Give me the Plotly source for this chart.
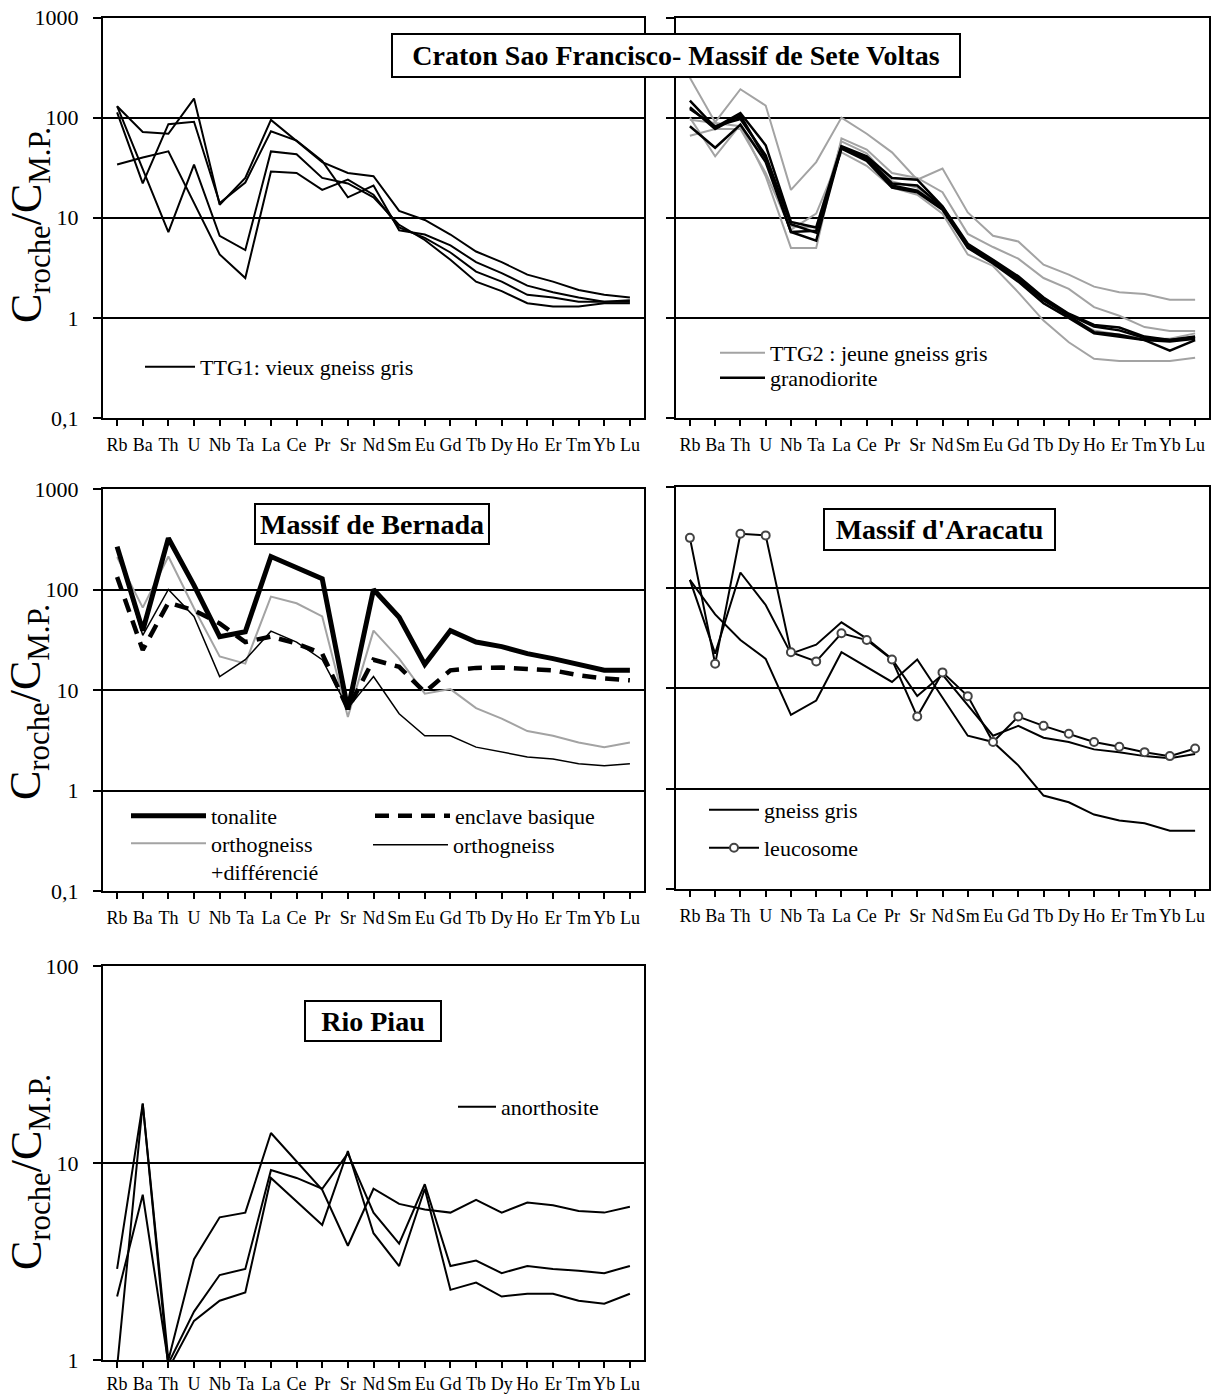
import plotly.graph_objects as go

# Page body has an 8px margin: figure is drawn 8px right/down of the window origin.
OFF = 8
W, H = 1212, 1386

elements = ["Rb", "Ba", "Th", "U", "Nb", "Ta", "La", "Ce", "Pr", "Sr", "Nd",
            "Sm", "Eu", "Gd", "Tb", "Dy", "Ho", "Er", "Tm", "Yb", "Lu"]

# ---- Panel 1 : TTG1 vieux gneiss gris
ttg1_a = [130, 72, 69, 155, 13.5, 25, 95, 58, 36, 28, 26, 11.7, 9.5, 6.8, 4.6, 3.6, 2.7, 2.3, 1.9, 1.7, 1.6]
ttg1_b = [113, 22, 86, 91, 14, 22.5, 73, 59, 37, 16, 21, 7.5, 6.8, 5.3, 3.6, 2.8, 2.1, 1.8, 1.6, 1.45, 1.5]
ttg1_c = [34, 40, 46, 14, 4.3, 2.5, 29, 28, 19, 24, 17, 8.0, 6.3, 4.5, 2.9, 2.3, 1.7, 1.6, 1.45, 1.45, 1.45]
ttg1_d = [130, 31, 7.2, 34, 6.6, 4.75, 46, 43, 25, 22, 16, 8.5, 6.0, 3.8, 2.3, 1.85, 1.4, 1.3, 1.3, 1.4, 1.4]

# ---- Panel 2 : TTG2 jeune gneiss gris (gray) + granodiorite (black)
ttg2_a = [250, 90, 192, 132, 19, 36, 100, 69, 45, 24, 31, 11.3, 6.6, 5.8, 3.4, 2.7, 2.05, 1.8, 1.73, 1.52, 1.52]
ttg2_b = [100, 41, 85, 26, 5.0, 5.0, 62, 48, 28, 25, 18, 6.9, 5.1, 3.9, 2.5, 1.95, 1.28, 1.05, 0.81, 0.74, 0.74]
ttg2_c = [66, 77, 77, 28, 7.6, 11, 45, 33, 20, 17, 11, 4.3, 3.3, 1.8, 0.94, 0.57, 0.39, 0.37, 0.37, 0.37, 0.40]
ttg2_d = [95, 88, 82, 40, 8.2, 8.0, 58, 44, 23, 20, 13, 5.0, 3.6, 2.4, 1.4, 1.0, 0.75, 0.68, 0.62, 0.62, 0.70]
gran_a = [148, 80, 111, 53, 9.1, 8.0, 52, 41, 25, 24, 13, 5.5, 3.8, 2.6, 1.6, 1.1, 0.85, 0.8, 0.65, 0.6, 0.65]
gran_b = [127, 77, 105, 39, 7.2, 5.9, 50, 39, 21, 18.6, 12.5, 5.2, 3.6, 2.4, 1.5, 1.05, 0.72, 0.68, 0.6, 0.47, 0.6]
gran_c = [82, 50, 85, 36, 7.2, 7.4, 49, 37, 20, 18, 12, 5.0, 3.5, 2.3, 1.4, 1.0, 0.7, 0.65, 0.6, 0.58, 0.62]
gran_d = [122, 82, 97, 42, 8.6, 7.1, 51, 40, 22, 21, 12.8, 5.3, 3.7, 2.5, 1.55, 1.08, 0.82, 0.75, 0.63, 0.6, 0.64]

# ---- Panel 3 : Massif de Bernada
tonalite = [267, 39, 324, 110, 34, 38, 213, 167, 128, 6.4, 100, 53, 18, 39, 30, 27, 23, 20.5, 18.2, 15.7, 15.7]
enclave = [133, 25, 74, 62, 46, 30, 34, 29, 23, 6.5, 20, 17, 9.5, 15.7, 16.6, 16.7, 16.2, 15.7, 14, 13, 12.5]
ortho_diff = [210, 66, 213, 65, 21.6, 18.3, 85, 73, 54, 5.4, 39, 20.5, 9.2, 10.2, 6.6, 5.2, 3.9, 3.5, 3.0, 2.7, 3.0]
ortho = [250, 35, 100, 54, 13.6, 20, 38.5, 30, 20, 6.6, 13.6, 5.8, 3.5, 3.5, 2.7, 2.4, 2.16, 2.06, 1.85, 1.76, 1.85]

# ---- Panel 4 : Massif d'Aracatu
leucosome = [312, 17.4, 343, 330, 22.7, 18.4, 35, 30, 19.2, 5.2, 14.3, 8.3, 2.9, 5.2, 4.2, 3.5, 2.9, 2.6, 2.3, 2.1, 2.5]
gneiss_a = [119, 22, 141, 67, 22, 27, 45, 31, 19.5, 8.3, 13.6, 6.7, 3.35, 4.2, 3.2, 2.9, 2.45, 2.3, 2.1, 2.0, 2.2]
gneiss_b = [119, 54, 30, 19.5, 5.4, 7.5, 22.7, 16, 11.5, 19.2, 8.1, 3.35, 2.9, 1.7, 0.85, 0.73, 0.55, 0.48, 0.45, 0.38, 0.38]

# ---- Panel 5 : Rio Piau
anor_a = [2.9, 20, 1.0, 3.25, 5.3, 5.6, 14.2, 10.2, 7.3, 3.8, 7.4, 6.2, 5.8, 5.6, 6.5, 5.6, 6.3, 6.1, 5.7, 5.6, 6.0]
anor_b = [2.1, 6.9, 0.96, 1.76, 2.7, 2.9, 9.2, 8.4, 7.4, 11.2, 5.6, 3.9, 7.8, 3.0, 3.2, 2.76, 3.0, 2.9, 2.84, 2.76, 3.0]
anor_c = [0.92, 20, 0.9, 1.58, 2.0, 2.2, 8.4, 6.4, 4.85, 11.5, 4.4, 3.0, 7.4, 2.27, 2.47, 2.1, 2.17, 2.17, 2.0, 1.93, 2.17]

ticks_main = [0.1, 1, 10, 100, 1000]
ticks_main_text = ["0,1", "1", "10", "100", "1000"]
ticks_rio = [1, 10, 100]
ticks_rio_text = ["1", "10", "100"]

FONT = "Liberation Serif, Times New Roman, serif"
GRAY = "#a3a3a3"


def fx(p):
    return (p - OFF) / W


def fy(p):
    return 1 - (p - OFF) / H


fig = go.Figure()


def add(vals, ax, color="black", width=2, dash=None, name=None, legend=None,
        mode="lines", marker=None):
    line = dict(color=color, width=width)
    if dash:
        line["dash"] = dash
    kw = dict(x=elements, y=vals, mode=mode, line=line,
              xaxis="x" + ("" if ax == 1 else str(ax)),
              yaxis="y" + ("" if ax == 1 else str(ax)),
              showlegend=legend is not None, name=name or "", hoverinfo="skip")
    if legend is not None:
        kw["legend"] = legend
    if marker is not None:
        kw["marker"] = marker
    fig.add_trace(go.Scatter(**kw))


# panel 1
add(ttg1_a, 1, name="TTG1: vieux gneiss gris", legend="legend")
for s in (ttg1_b, ttg1_c, ttg1_d):
    add(s, 1)
# panel 2
add(ttg2_a, 2, color=GRAY, name="TTG2 : jeune gneiss gris", legend="legend2")
for s in (ttg2_b, ttg2_c, ttg2_d):
    add(s, 2, color=GRAY)
add(gran_a, 2, width=2.5, name="granodiorite", legend="legend3")
for s in (gran_b, gran_c, gran_d):
    add(s, 2, width=2.5)
# panel 3
add(ortho_diff, 3, color=GRAY, width=2, name="orthogneiss<br>+différencié", legend="legend5")
add(ortho, 3, width=1.5, name="orthogneiss", legend="legend7")
add(enclave, 3, width=4.5, dash="14px,9px", name="enclave basique", legend="legend6")
add(tonalite, 3, width=5, name="tonalite", legend="legend4")
# panel 4
add(gneiss_a, 4, name="gneiss gris", legend="legend8")
add(gneiss_b, 4)
add(leucosome, 4, name="leucosome", legend="legend9", mode="lines+markers",
    marker=dict(symbol="circle", size=8, color="white", line=dict(color="#444", width=2)))
# panel 5
add(anor_a, 5, name="anorthosite", legend="legend10")
add(anor_b, 5)
add(anor_c, 5)

# plot-area boxes in reference window pixels
panels = {
    1: dict(x=(103, 644), y=(17.5, 418), labels=True, rio=False, stand=3),
    2: dict(x=(676, 1209), y=(17.5, 418), labels=False, rio=False, stand=3),
    3: dict(x=(103, 644), y=(489, 891), labels=True, rio=False, stand=3),
    4: dict(x=(676, 1209), y=(487, 889), labels=False, rio=False, stand=3),
    5: dict(x=(103, 644), y=(966, 1360), labels=True, rio=True, stand=0),
}

layout = dict(
    width=W, height=H, margin=dict(l=0, r=0, t=0, b=0, autoexpand=False),
    paper_bgcolor="white", plot_bgcolor="white",
    font=dict(family=FONT, color="black", size=18),
    hovermode=False,
)

for i, p in panels.items():
    sx = "" if i == 1 else str(i)
    layout["xaxis" + sx] = dict(
        type="category", domain=[fx(p["x"][0]), fx(p["x"][1])],
        anchor="y" + sx, range=[-0.55, 20.55], automargin=False,
        showline=True, linewidth=2, linecolor="black", mirror=True,
        ticks="outside", ticklen=6, tickwidth=2, tickcolor="black",
        showgrid=False, zeroline=False, tickfont=dict(size=18, family=FONT),
        ticklabelstandoff=p["stand"], tickangle=0, ticklabeloverflow="allow",
    )
    layout["yaxis" + sx] = dict(
        type="log", domain=[fy(p["y"][1]), fy(p["y"][0])],
        anchor="x" + sx, range=[0, 2] if p["rio"] else [-1, 3], automargin=False,
        showline=True, linewidth=2, linecolor="black", mirror=True,
        ticks="outside", ticklen=8, tickwidth=2, tickcolor="black",
        showgrid=True, gridcolor="black", gridwidth=2, zeroline=False,
        tickvals=ticks_rio if p["rio"] else ticks_main,
        ticktext=ticks_rio_text if p["rio"] else ticks_main_text,
        showticklabels=p["labels"], tickfont=dict(size=22, family=FONT),
        ticklabelstandoff=10, ticklabeloverflow="allow",
    )

# legends: (line start x px, centre y px, itemwidth)
leg_pos = {
    "legend": (145, 367, 50),
    "legend2": (720, 353, 45),
    "legend3": (720, 378, 45),
    "legend4": (131, 816, 75),
    "legend5": (131, 858, 75),
    "legend6": (375, 816, 75),
    "legend7": (373, 845, 75),
    "legend8": (709, 810, 50),
    "legend9": (709, 848, 50),
    "legend10": (458, 1107, 38),
}
for k, (lx, ly, iw) in leg_pos.items():
    layout[k] = dict(x=fx(lx - 5), y=fy(ly), xanchor="left", yanchor="middle",
                     xref="paper", yref="paper",
                     bgcolor="rgba(0,0,0,0)", borderwidth=0,
                     font=dict(size=22, family=FONT, color="black"),
                     itemwidth=iw, valign="top", tracegroupgap=0)

annotations = []
# boxed titles: (text, cx, cy, w, h) in reference window pixels
titles = [
    ("Craton Sao Francisco- Massif de Sete Voltas", 676, 55.5, 570, 45),
    ("Massif de Bernada", 372, 524, 236, 42),
    ("Massif d'Aracatu", 939.5, 529.5, 233, 43),
    ("Rio Piau", 373, 1021, 138, 42),
]
for t, cx, cy, bw_, bh in titles:
    annotations.append(dict(
        text="<b>%s</b>" % t, x=fx(cx), y=fy(cy), xref="paper", yref="paper",
        xanchor="center", yanchor="middle", showarrow=False,
        font=dict(size=28, family=FONT, color="black"),
        bgcolor="white", bordercolor="black", borderwidth=2, borderpad=0,
        width=bw_ - 4, height=bh - 4, align="center", valign="middle",
    ))

ytitle = "C<sub>roche</sub>/C<sub>M.P.</sub>"
for cy in (225, 702, 1172):
    annotations.append(dict(
        text=ytitle, x=fx(29), y=fy(cy), xref="paper", yref="paper",
        xanchor="center", yanchor="middle", showarrow=False, textangle=-90,
        font=dict(size=44, family=FONT, color="black"),
    ))

layout["annotations"] = annotations
fig.update_layout(**layout)
fig.write_html("out.html")
